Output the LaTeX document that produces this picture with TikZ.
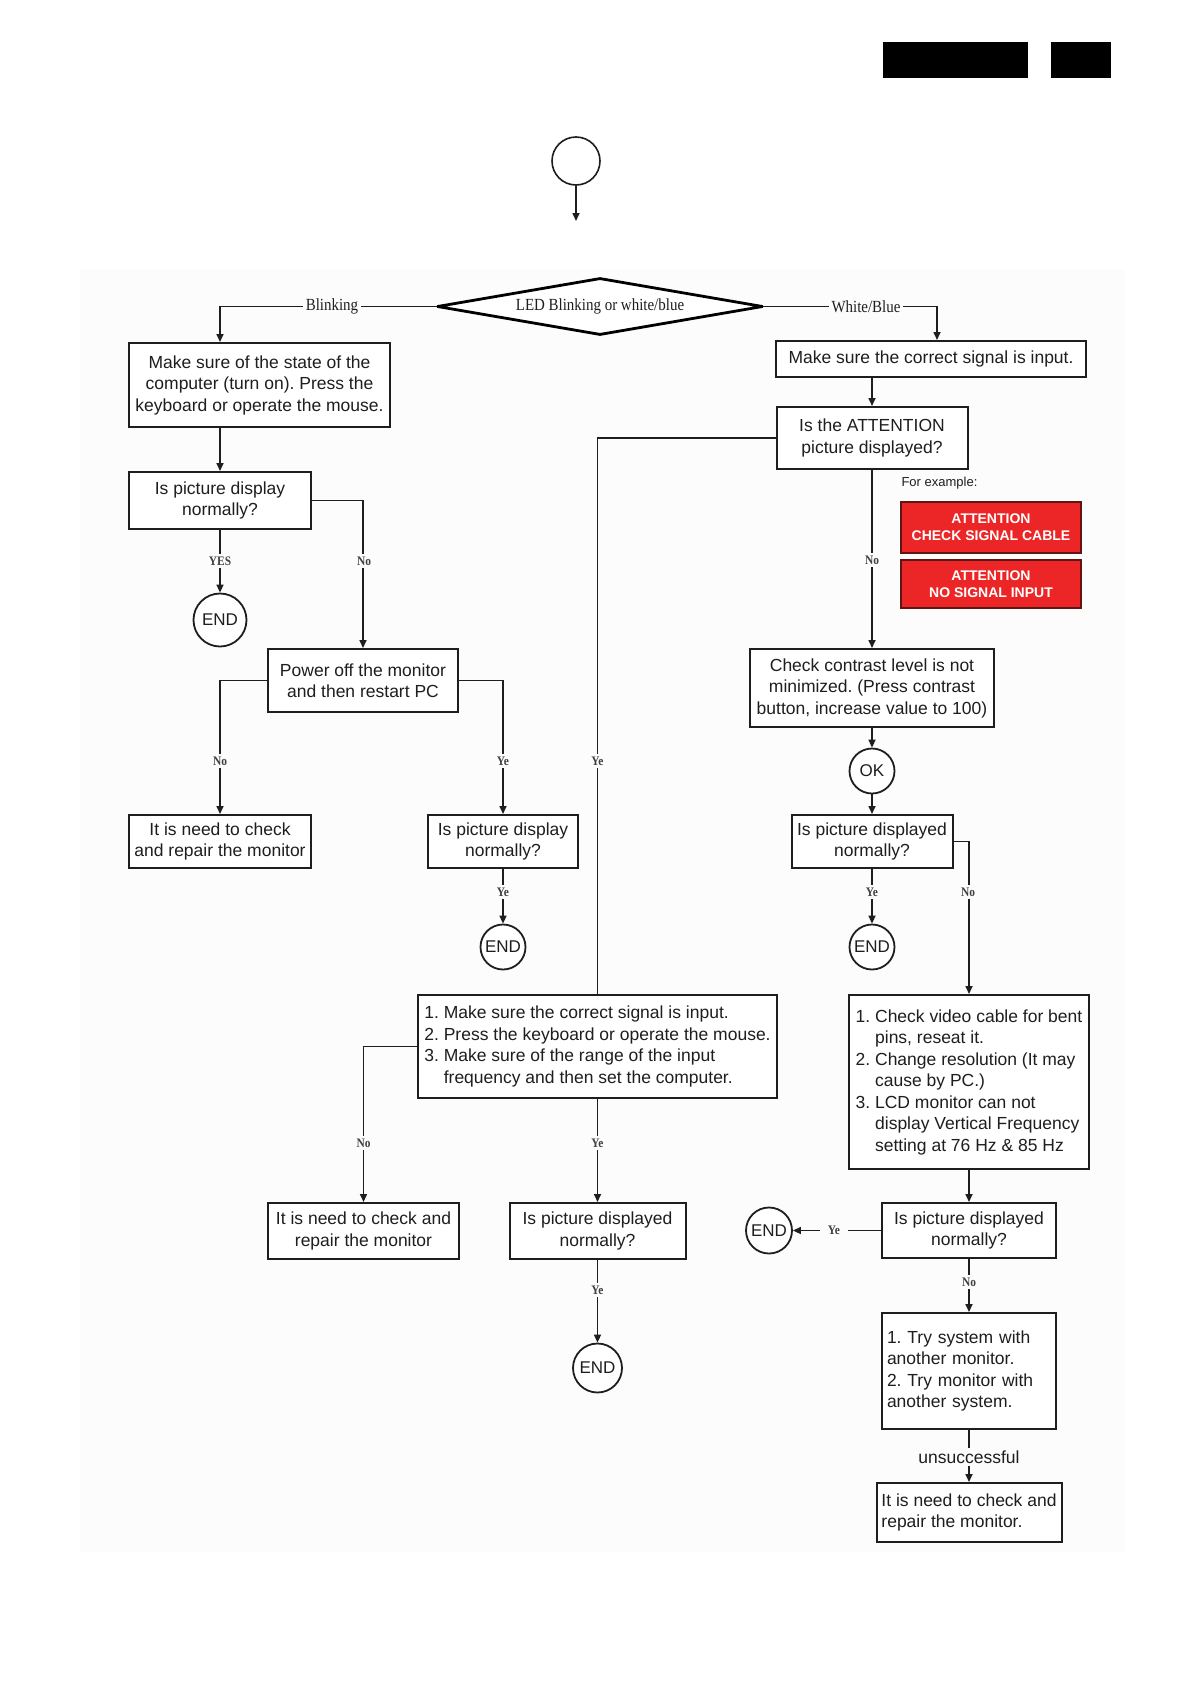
\documentclass[tikz,border=0pt]{standalone}
\usepackage{fontspec}
\setmainfont{Liberation Sans}
\newfontfamily\lblfont[FakeStretch=0.88]{Liberation Serif}
\usetikzlibrary{arrows.meta,shapes.geometric,calc}
\definecolor{bgc}{RGB}{252,252,252}
\definecolor{attred}{RGB}{236,38,38}
\definecolor{ink}{RGB}{30,30,30}
\frenchspacing
\begin{document}
\begin{tikzpicture}[x=1pt,y=-1pt,
  box/.style={draw=ink, line width=2pt, fill=white, text=ink, align=center,
    inner sep=3pt, font=\fontsize{17.5}{21.5}\selectfont},
  endc/.style={circle, draw=ink, line width=1.8pt, fill=white, text=ink,
    inner sep=0pt, font=\fontsize{17}{17}\selectfont},
  startc/.style={circle, draw=ink, line width=1.6pt, fill=white, inner sep=0pt, minimum size=48},
  dia/.style={diamond, draw=black, line width=2.8pt, line join=round, aspect=5.7,
    minimum width=326, minimum height=57, inner sep=0pt, fill=white, text=ink,
    font=\lblfont\fontsize{17}{17}\selectfont},
  redbox/.style={draw=ink!70!red, line width=1.5pt, fill=attred, text=white, align=center,
    inner sep=2pt, font=\bfseries\fontsize{14}{17}\selectfont},
  conn/.style={draw=ink, line width=1.6pt},
  arr/.style={conn, -{Triangle[length=8pt,width=7pt]}},
  lbl/.style={fill=bgc, inner sep=3pt, text=ink!85, font=\lblfont\bfseries\fontsize{13}{13}\selectfont},
  blbl/.style={fill=bgc, inner sep=3pt, text=ink, font=\lblfont\fontsize{17}{17}\selectfont},
  slbl/.style={fill=bgc, inner sep=3pt, text=ink, font=\fontsize{17.5}{17.5}\selectfont}
]
\useasboundingbox (0,0) rectangle (1190,1684);
\fill[bgc] (80,270) rectangle (1125,1552);
\fill[black] (883,42) rectangle (1028,78);
\fill[black] (1051,42) rectangle (1111,78);

% nodes
\node[startc] (start) at (576,161) {};
\coordinate (startend) at (576,221);
\node[dia] (dia) at (600,306.5) {LED Blinking or white/blue};

\node[box, minimum width=261, minimum height=84] (b1) at (259.5,385)
  {Make sure of the state of the\\computer (turn on). Press the\\keyboard or operate the mouse.};
\node[box, minimum width=182, minimum height=57] (b2) at (220,500.5) {Is picture display\\normally?};
\node[endc, minimum size=53] (e1) at (220,620) {END};
\node[box, minimum width=190, minimum height=63] (b3) at (363,680.5) {Power off the monitor\\and then restart PC};
\node[box, minimum width=182, minimum height=53] (b4) at (220,841.5) {It is need to check\\and repair the monitor};
\node[box, minimum width=150, minimum height=53] (b5) at (503,841.5) {Is picture display\\normally?};
\node[endc, minimum size=45] (e2) at (503,947) {END};

\node[box, minimum width=310, minimum height=36] (r1) at (931,359) {Make sure the correct signal is input.};
\node[box, minimum width=191, minimum height=62] (r2) at (872,438) {Is the ATTENTION\\picture displayed?};
\node[anchor=west, text=ink, font=\fontsize{13}{13}\selectfont] (fex) at (898,483) {For example:};
\node[redbox, minimum width=180, minimum height=51] (red1) at (991,527.5) {ATTENTION\\CHECK SIGNAL CABLE};
\node[redbox, minimum width=180, minimum height=48] (red2) at (991,584) {ATTENTION\\NO SIGNAL INPUT};
\node[box, minimum width=244, minimum height=78] (r3) at (872,688)
  {Check contrast level is not\\minimized. (Press contrast\\button, increase value to 100)};
\node[endc, minimum size=45] (ok) at (872,771) {OK};
\node[box, minimum width=161, minimum height=53] (r4) at (872,841.5) {Is picture displayed\\normally?};
\node[endc, minimum size=45] (e3) at (872,947) {END};

\node[box, align=left, minimum width=359, minimum height=103] (m1) at (597.5,1046.5)
  {1. Make sure the correct signal is input.\\2. Press the keyboard or operate the mouse.\\3. Make sure of the range of the input\\\phantom{3. }frequency and then set the computer.};
\node[box, minimum width=191, minimum height=56] (b6) at (363.5,1231) {It is need to check and\\repair the monitor};
\node[box, minimum width=176, minimum height=56] (b7) at (597.5,1231) {Is picture displayed\\normally?};
\node[endc, minimum size=49] (e4) at (597.5,1368) {END};

\node[box, align=left, minimum width=240, minimum height=174] (m2) at (969,1082)
  {1. Check video cable for bent\\\phantom{1. }pins, reseat it.\\2. Change resolution (It may\\\phantom{2. }cause by PC.)\\3. LCD monitor can not\\\phantom{3. }display Vertical Frequency\\\phantom{3. }setting at 76 Hz \& 85 Hz};
\node[box, minimum width=174, minimum height=55] (r5) at (969,1230.5) {Is picture displayed\\normally?};
\node[endc, minimum size=46] (e5) at (769,1230.5) {END};
\node[box, align=left, text width=164, minimum width=174, minimum height=116] (r6) at (969,1371)
  {1. Try system with\\another monitor.\\2. Try monitor with\\another system.};
\node[box, align=left, minimum width=185, minimum height=59] (r7) at (969,1512.5)
  {It is need to check and\\repair the monitor.};

% connectors
\draw[arr] (start) -- (startend);
\draw[arr] (dia.west) -| (b1.north -| b2.north);
\draw[arr] (dia.east) -| ($(r1.north)+(6,0)$);
\draw[arr] (b1.south -| b2.north) -- (b2.north);
\draw[arr] (b2) -- (e1);
\draw[arr] (b2.east) -| (b3.north);
\draw[arr] (b3.west) -| (b4.north);
\draw[arr] (b3.east) -| (b5.north);
\draw[arr] (b5) -- (e2);
\draw[arr] (r1.south -| r2.north) -- (r2.north);
\draw[conn] (r2.west) -| (m1.north);
\draw[arr] (r2) -- (r3);
\draw[arr] (r3) -- (ok);
\draw[arr] (ok) -- (r4);
\draw[arr] (r4) -- (e3);
\draw[arr] (r4.east) -| (m2.north);
\draw[arr] (m1.west) -| (b6.north);
\draw[arr] (m1) -- (b7);
\draw[arr] (b7) -- (e4);
\draw[arr] (m2) -- (r5);
\draw[arr] (r5) -- (e5);
\draw[arr] (r5) -- (r6);
\draw[arr] (r6) -- (r7);

% labels
\node[blbl] (lblink) at (332,306.5) {Blinking};
\node[blbl] (lwhite) at (866,306.5) {White/Blue};
\node[lbl] (l1) at (220,561) {YES};
\node[lbl] (l2) at (364,561) {No};
\node[lbl] (l3) at (220,761) {No};
\node[lbl] (l4) at (503,761) {Ye};
\node[lbl] (l5) at (597.5,761) {Ye};
\node[lbl] (l6) at (503,892) {Ye};
\node[lbl] (l7) at (872,560) {No};
\node[lbl] (l8) at (872,892) {Ye};
\node[lbl] (l9) at (968,892) {No};
\node[lbl] (l10) at (363.5,1143) {No};
\node[lbl] (l11) at (597.5,1143) {Ye};
\node[lbl] (l12) at (597.5,1290) {Ye};
\node[lbl, inner xsep=8pt] (l13) at (834,1230.5) {Ye};
\node[lbl] (l14) at (969,1282) {No};
\node[slbl] (l15) at (969,1457) {unsuccessful};
\end{tikzpicture}
\end{document}
